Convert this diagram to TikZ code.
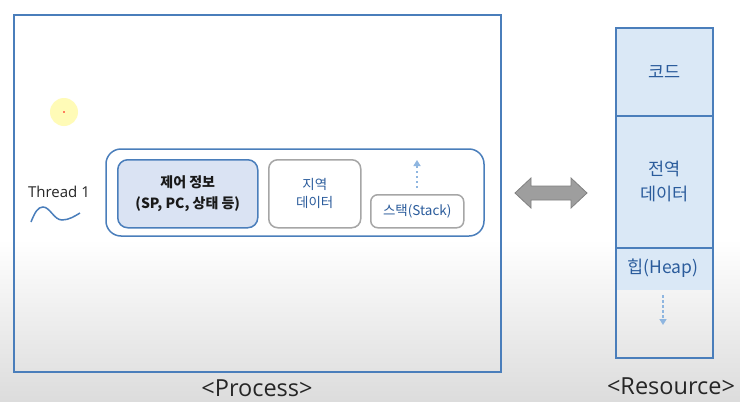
\documentclass[tikz,border=0pt]{standalone}
\usepackage{fontspec}
\setmainfont{Open Sans}
\newfontfamily\kr{Noto Sans CJK KR}
\usetikzlibrary{arrows.meta}
\definecolor{pblue}{HTML}{4A7EBB}
\definecolor{lblue}{HTML}{DAE3F3}
\definecolor{rblue}{HTML}{DAE8F6}
\definecolor{tblue}{HTML}{2B5C9C}
\definecolor{gbox}{HTML}{A6A6A6}
\definecolor{dotb}{HTML}{8FB6E0}
\definecolor{bgg}{HTML}{DCDCDC}
\tikzset{
  bluebox/.style={draw=pblue, line width=1.5pt},
  ctrlbox/.style={draw=pblue, fill=lblue, line width=1.5pt, rounded corners=10pt},
  greybox/.style={draw=gbox, fill=white, line width=1.5pt, rounded corners=9pt},
  dotarrow/.style={dotb, line width=2.2pt, dash pattern=on 2.5pt off 2.5pt, -{Triangle[length=6pt,width=7pt]}},
  ktext/.style={font=\kr\fontsize{13.5}{18}\selectfont, text=tblue, align=center},
  rtext/.style={font=\kr\fontsize{17.5}{23}\selectfont, text=tblue, align=center},
  biglbl/.style={font=\fontsize{23.5}{26}\selectfont, text=black!85},
}
\begin{document}
\begin{tikzpicture}[x=1pt,y=-1pt]
% background
\useasboundingbox (0,0) rectangle (740,402);
\fill[white] (0,0) rectangle (740,240);
\shade[top color=white, bottom color=bgg] (0,239.5) rectangle (740,402);
% cursor highlight
\fill[yellow!35, opacity=0.8] (64,112) circle (14);
\fill[red] (64,112) circle (0.8);
% process box
\node[bluebox, minimum width=487, minimum height=357, inner sep=0, anchor=north west] (proc) at (13,14) {};
\node[biglbl] (proclbl) at (257,388) {<Process>};
% thread
\node[font=\fontsize{15}{17}\selectfont, text=black!85] (thr) at (59,192) {Thread 1};
\draw[pblue, line width=1.5pt] (31,222) .. controls (35,212) and (38,207) .. (43,207) .. controls (50,207) and (54,220) .. (62,220) .. controls (69,220) and (75,216) .. (80,213);
% outer rounded box
\draw[pblue, line width=1.5pt, rounded corners=15pt] (106,149) rectangle (484,236);
\node[ctrlbox, minimum width=140, minimum height=68, inner sep=0, anchor=north west] (ctrl) at (117,159) {};
\node[font=\kr\bfseries\fontsize{14}{21}\selectfont, text=black!90, align=center] at (ctrl.center) {제어 정보\\(SP, PC, 상태 등)};
\node[greybox, minimum width=92, minimum height=68, inner sep=0, anchor=north west] (local) at (268,159) {};
\node[ktext] at (local.center) {지역\\데이터};
\node[greybox, minimum width=93, minimum height=33, inner sep=0, anchor=north west, rounded corners=7pt] (stack) at (370,194) {};
\node[ktext] at (stack.center) {스택(Stack)};
\coordinate (sbot) at (417,188);
\coordinate (stop) at (417,160);
\draw[dotarrow] (sbot) -- (stop);
% double arrow
\filldraw[fill=black!38, draw=black!50, line width=0.8pt] (515,193) -- (531,178) -- (531,186) -- (571,186) -- (571,178) -- (587,193) -- (571,208) -- (571,200) -- (531,200) -- (531,208) -- cycle;
% resource column
\fill[rblue] (615,27) rectangle (712,290);
\node[bluebox, minimum width=97, minimum height=88, inner sep=0, anchor=north west] (code) at (615,27) {};
\node[bluebox, minimum width=97, minimum height=132, inner sep=0, anchor=north west] (gdata) at (615,115) {};
\node[bluebox, minimum width=97, minimum height=110, inner sep=0, anchor=north west] (heap) at (615,247) {};
\node[rtext] at (code.center) {코드};
\node[rtext, font=\kr\fontsize{17.5}{25}\selectfont] at (gdata.center) {전역\\데이터};
\node[rtext] at (663,268) {힙(Heap)};
\coordinate (htop) at (663,295);
\coordinate (hbot) at (663,325);
\draw[dotarrow] (htop) -- (hbot);
\node[biglbl] (reslbl) at (671,386) {<Resource>};
\end{tikzpicture}
\end{document}
